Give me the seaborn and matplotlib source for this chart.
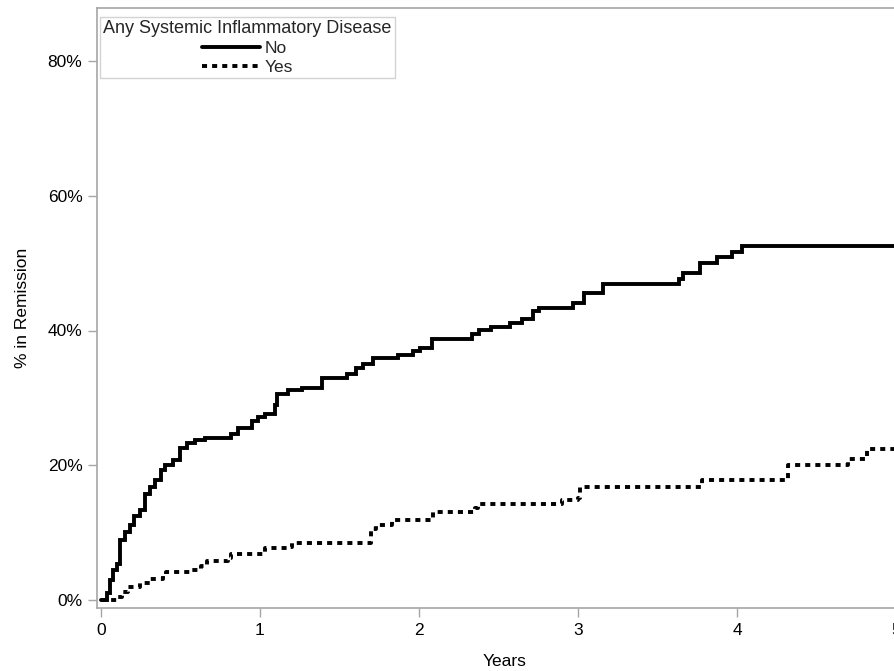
import numpy as np
import pandas as pd
import seaborn as sns
import matplotlib
matplotlib.use("Agg")
import matplotlib.pyplot as plt
from matplotlib.ticker import PercentFormatter

# ---- data ----
no_time = [0, 0.036, 0.057, 0.077, 0.099, 0.12, 0.15, 0.18, 0.21, 0.245, 0.277, 0.31, 0.34,
           0.38, 0.40, 0.455, 0.50, 0.54, 0.59, 0.654, 0.82, 0.86, 0.948, 0.99, 1.03, 1.094,
           1.11, 1.178, 1.262, 1.388, 1.545, 1.604, 1.65, 1.713, 1.87, 1.964, 2.006, 2.08,
           2.335, 2.38, 2.45, 2.57, 2.646, 2.72, 2.757, 2.967, 3.04, 3.16, 3.637, 3.66, 3.77,
           3.876, 3.967, 4.03, 5.1]
no_pct = [0, 1.0, 3.0, 4.5, 5.4, 8.9, 10.1, 11.1, 12.4, 13.4, 15.8, 16.8, 17.8,
          19.3, 20.0, 20.8, 22.5, 23.3, 23.7, 24.0, 24.7, 25.5, 26.5, 27.2, 27.6, 28.9,
          30.6, 31.2, 31.5, 33.0, 33.6, 34.4, 35.0, 35.9, 36.4, 36.9, 37.4, 38.8,
          39.5, 40.1, 40.5, 41.1, 41.7, 42.9, 43.4, 44.1, 45.5, 46.9, 47.7, 48.5, 50.0,
          50.9, 51.7, 52.5, 52.5]

yes_time = [0, 0.10, 0.13, 0.17, 0.245, 0.31, 0.39, 0.41, 0.57, 0.63, 0.665, 0.80, 0.82,
            1.03, 1.18, 1.20, 1.70, 1.73, 1.83, 2.09, 2.35, 2.37, 2.90, 3.00, 3.01, 3.78,
            4.32, 4.70, 4.82, 5.1]
yes_pct = [0, 0.5, 1.2, 1.9, 2.5, 3.1, 3.7, 4.1, 4.45, 5.05, 5.8, 6.3, 6.9,
           7.7, 7.9, 8.4, 10.6, 11.1, 11.8, 13.0, 13.6, 14.25, 14.8, 15.1, 16.8, 17.8,
           20.0, 21.0, 22.4, 22.4]

group_labels = ["No", "Yes"]
legend_title = "Any Systemic Inflammatory Disease"
x_ticks = [0, 1, 2, 3, 4, 5]
y_ticks = [0, 20, 40, 60, 80]

df = pd.concat([
    pd.DataFrame({"Years": no_time, "pct": no_pct, "grp": group_labels[0]}),
    pd.DataFrame({"Years": yes_time, "pct": yes_pct, "grp": group_labels[1]}),
], ignore_index=True)

sns.set_style("white")
plt.rcParams["font.family"] = ["Liberation Sans", "DejaVu Sans"]

W, H = 895, 671
fig = plt.figure(figsize=(W / 100, H / 100), dpi=100)
ax_left, ax_top, ax_bottom = 97, 8, 608
xmin, xmax = -0.025, 5.1
px_per_year = 159
ax_w = (xmax - xmin) * px_per_year
ax = fig.add_axes([ax_left / W, (H - ax_bottom) / H, ax_w / W, (ax_bottom - ax_top) / H])

lw = 2.8
sub_no = df[df.grp == group_labels[0]]
sub_yes = df[df.grp == group_labels[1]]
sns.lineplot(data=sub_no, x="Years", y="pct", ax=ax, color="black", lw=lw,
             drawstyle="steps-post", label=group_labels[0], solid_joinstyle="miter")
sns.lineplot(data=sub_yes, x="Years", y="pct", ax=ax, color="black", lw=lw,
             drawstyle="steps-post", label=group_labels[1], dashes=(1.3, 1.3),
             dash_capstyle="butt")

ax.set_xlim(xmin, xmax)
ymin = -8 / 134.75 * 20
ymax = (600 - 8) / 134.75 * 20
ax.set_ylim(ymin, ymax)
ax.set_xticks(x_ticks)
ax.set_yticks(y_ticks)
ax.yaxis.set_major_formatter(PercentFormatter(xmax=100, decimals=0))

spine_col = "#a6a6a6"
for s in ax.spines.values():
    s.set_color(spine_col)
    s.set_linewidth(1.2)
ax.tick_params(axis="both", which="major", direction="out", length=6.5, width=1.0,
               color=spine_col, labelsize=12.5, labelcolor="black", pad=4,
               bottom=True, left=True)

ax.set_xlabel("Years", fontsize=12.5, color="black", labelpad=12)
ax.set_ylabel("% in Remission", fontsize=12.5, color="black", labelpad=13)

leg = ax.legend(title=legend_title, loc="upper left",
                bbox_to_anchor=(3 / ax_w, 1 - 9 / (ax_bottom - ax_top)),
                borderaxespad=0, frameon=True, fancybox=False, edgecolor="#c8c8c8",
                fontsize=12.5, title_fontsize=13, handlelength=3.3, handletextpad=0.3,
                labelspacing=0.2, borderpad=0.2, alignment="center")
leg.get_frame().set_linewidth(1.0)

fig.savefig("out.png", dpi=100)
